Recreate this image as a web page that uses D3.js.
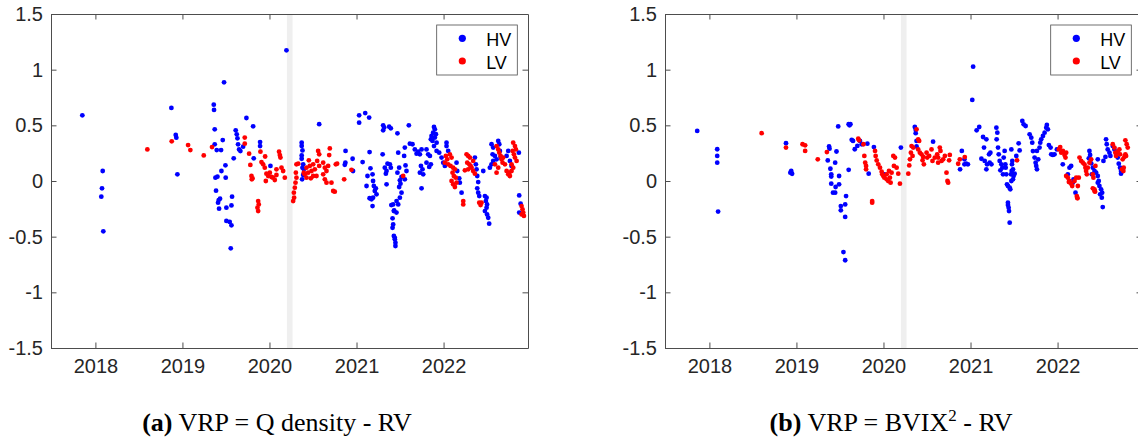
<!DOCTYPE html>
<html>
<head>
<meta charset="utf-8">
<script src="https://cdn.jsdelivr.net/npm/d3@7"></script>
<style>
  body { margin: 0; background: #fff; }
  svg { display: block; }
  .tick text { font-family: 'Liberation Sans', Arial, sans-serif; font-size: 20px; fill: #262626; }
  .legend-label { font-family: 'Liberation Sans', Arial, sans-serif; font-size: 18px; fill: #000; }
  .caption { font-family: 'Liberation Serif', 'Times New Roman', serif; font-size: 26px; fill: #000; }
</style>
</head>
<body>
<svg id="fig" width="1138" height="438"></svg>
<script>
// Tick labels and ranges
const years = [2018, 2019, 2020, 2021, 2022];
const yTicks = [-1.5, -1, -0.5, 0, 0.5, 1, 1.5];
const xDomain = [2017.49, 2022.97];
const yDomain = [-1.5, 1.5];
const covidBand = [2020.2, 2020.265];
const seriesNames = ['HV', 'LV'];
const seriesColors = ['#0000ff', '#ff0000'];

// Points are [decimal year, VRP]
const leftHV = [
  [2017.85,0.59],[2018.084,0.09],[2018.076,-0.066],[2018.068,-0.141],[2018.091,-0.452],
  [2018.873,0.656],[2018.923,0.413],[2018.93,0.389],[2018.942,0.06],
  [2019.36,0.686],[2019.363,0.638],[2019.371,0.464],[2019.371,0.329],[2019.394,0.278],[2019.444,0.278],[2019.463,0.368],[2019.478,0.886],
  [2019.379,0.03],[2019.402,0.039],[2019.448,0.09],[2019.494,0.141],[2019.497,0.03],
  [2019.386,-0.087],[2019.417,-0.171],[2019.432,-0.159],[2019.409,-0.195],[2019.421,-0.249],[2019.505,-0.24],[2019.57,-0.141],[2019.563,-0.219],[2019.505,-0.359],[2019.543,-0.368],[2019.563,-0.398],[2019.555,-0.605],
  [2019.589,0.204],[2019.612,0.455],[2019.624,0.419],[2019.632,0.383],[2019.639,0.329],[2019.651,0.284],[2019.666,0.269],[2019.697,0.308],[2019.735,0.566],[2019.812,0.491],[2019.819,0.204],[2019.892,0.35],[2019.892,0.314],[2020.011,0.135],[2020.195,1.174],
  [2020.37,0.344],[2020.37,0.315],[2020.379,0.275],[2020.37,0.23],[2020.37,0.2],[2020.387,0.15],[2020.379,0.12],[2020.395,0.105],[2020.387,0.054],[2020.375,0.015],
  [2020.571,0.51],
  [2020.874,0.27],[2020.872,0.165],[2020.865,0.145],[2020.955,0.2],[2020.96,0.09],
  [2021.07,0.17],[2021.15,0.26],
  [2021.03,0.59],[2021.03,0.524],[2021.1,0.61],[2021.145,0.57],
  [2021.126,0.045],[2021.115,-0.045],[2021.16,0.114],[2021.184,0.06],[2021.19,0.0],[2021.199,-0.045],[2021.21,-0.09],[2021.19,-0.15],[2021.184,-0.225],[2021.222,-0.066],[2021.23,-0.12],[2021.172,-0.165],[2021.15,-0.155],
  [2021.306,0.5],[2021.306,0.455],[2021.318,0.48],[2021.375,0.488],[2021.394,0.473],[2021.47,0.428],[2021.3,0.24],[2021.345,0.09],[2021.356,0.156],[2021.325,0.12],[2021.337,0.066],[2021.345,-0.03],[2021.383,0.15],[2021.394,0.12],
  [2021.479,0.254],[2021.49,0.12],[2021.47,0.075],[2021.498,0.006],[2021.517,0.036],[2021.505,-0.024],[2021.49,-0.054],[2021.517,-0.105],[2021.498,-0.15],[2021.46,-0.18],[2021.479,-0.21],[2021.421,-0.21],[2021.429,-0.27],[2021.414,-0.335],[2021.421,-0.39],[2021.414,-0.42],[2021.429,-0.494],[2021.44,-0.51],[2021.44,-0.524],[2021.447,-0.554],[2021.447,-0.584],[2021.40,-0.216],[2021.432,-0.263],[2021.459,-0.284],
  [2021.555,0.3],[2021.547,0.225],[2021.563,0.14],[2021.574,0.09],[2021.555,0.015],[2021.601,0.5],
  [2021.613,0.335],[2021.643,0.33],[2021.67,0.284],[2021.69,0.245],[2021.708,0.263],[2021.728,0.24],[2021.747,0.284],
  [2021.747,-0.066],[2021.74,0.135],[2021.758,0.105],[2021.766,0.06],[2021.728,0.075],
  [2021.804,0.284],[2021.823,0.24],[2021.843,0.225],[2021.804,0.165],[2021.835,0.126],[2021.854,0.15],
  [2021.89,0.485],[2021.9,0.464],[2021.88,0.434],[2021.862,0.404],[2021.854,0.374],[2021.873,0.36],[2021.9,0.39],[2021.912,0.42],[2021.89,0.314],[2021.92,0.344],
  [2021.92,0.27],[2021.95,0.254],[2021.977,0.21],[2021.996,0.165],[2022.015,0.135],
  [2022.034,0.344],[2022.034,0.314],[2022.053,0.27],
  [2022.149,0.165],[2022.157,0.09],[2022.18,0.024],[2022.187,-0.015],[2022.207,-0.105],
  [2022.36,0.21],[2022.371,0.15],[2022.379,0.105],[2022.387,0.045],[2022.398,-0.01],[2022.387,-0.066],[2022.398,-0.105],[2022.41,-0.135],
  [2022.456,0.09],[2022.475,-0.135],[2022.494,-0.15],[2022.486,-0.18],[2022.5,-0.21],[2022.494,-0.24],[2022.475,-0.27],[2022.5,-0.3],[2022.513,-0.33],[2022.524,-0.383],
  [2022.532,0.12],[2022.551,0.15],[2022.57,0.18],[2022.563,0.24],[2022.551,0.33],[2022.57,0.3],[2022.59,0.225],[2022.609,0.195],[2022.628,0.36],[2022.64,0.33],[2022.647,0.27],[2022.655,0.216],
  [2022.724,0.225],[2022.743,0.27],[2022.762,0.18],[2022.781,0.135],
  [2022.865,0.254],[2022.869,-0.13],[2022.885,-0.204],[2022.869,-0.284]
];

const leftLV = [
  [2018.597,0.284],[2018.877,0.356],[2019.065,0.323],[2019.091,0.278],[2019.245,0.23],[2019.34,0.305],
  [2019.716,0.39],[2019.716,0.335],[2019.766,0.245],[2019.78,0.144],[2019.793,0.045],[2019.805,0.024],[2019.797,0.015],
  [2019.896,0.263],[2019.908,0.17],[2019.927,0.15],[2019.946,0.12],[2019.95,0.22],[2019.965,0.066],[2019.985,0.045],[2019.958,0.0],[2020.004,0.075],[2020.023,0.036],[2020.042,0.03],[2020.061,0.009],[2020.08,0.105],[2020.11,0.263],[2020.119,0.233],[2020.126,0.21],[2020.138,0.12],[2020.157,0.09],[2020.176,0.03],[2020.08,0.054],
  [2019.87,-0.18],[2019.877,-0.21],[2019.862,-0.24],[2019.87,-0.27],
  [2020.31,0.15],[2020.303,0.075],[2020.31,0.03],[2020.299,-0.015],[2020.291,-0.06],[2020.28,-0.105],[2020.283,-0.15],[2020.272,-0.18],[2020.33,0.156],
  [2020.394,0.075],[2020.405,0.06],
  [2020.452,0.186],[2020.425,0.12],[2020.463,0.135],[2020.483,0.09],[2020.444,0.075],[2020.425,0.03],[2020.502,0.15],[2020.521,0.105],[2020.559,0.27],[2020.571,0.24],[2020.548,0.18],[2020.571,0.135],[2020.502,0.045],[2020.475,0.024],[2020.54,0.045],
  [2020.617,0.165],[2020.636,0.12],[2020.655,0.09],[2020.674,0.135],[2020.693,0.293],[2020.686,0.233],[2020.636,0.015],[2020.655,-0.015],[2020.732,-0.09],[2020.75,-0.096],[2020.762,0.15],[2020.777,0.156],[2020.712,-0.015],[2020.617,0.06],
  [2020.858,0.015],[2020.942,0.1],
  [2021.536,0.045],
  [2022.026,0.225],[2022.042,0.195],[2022.072,0.24],[2022.092,0.21],[2022.015,0.165],[2022.053,0.15],[2022.08,0.135],[2022.11,0.12],[2022.13,0.105],[2022.103,0.075],[2022.118,0.045],[2022.141,0.03],[2022.092,0.0],[2022.11,-0.03],[2022.13,-0.054],[2022.149,-0.015],
  [2022.226,-0.18],[2022.226,-0.21],
  [2022.264,0.24],[2022.283,0.225],[2022.302,0.21],[2022.272,0.165],[2022.295,0.15],[2022.31,0.135],[2022.283,0.105],[2022.322,0.12],[2022.34,0.09],[2022.36,0.066],[2022.245,0.096],[2022.34,0.18],
  [2022.41,-0.195],[2022.425,-0.216],[2022.436,-0.195],
  [2022.609,0.314],[2022.628,0.284],[2022.64,0.254],[2022.655,0.225],[2022.666,0.195],[2022.685,0.21],[2022.678,0.165],[2022.705,0.15],[2022.628,0.12],[2022.609,0.075],[2022.59,0.15],
  [2022.724,0.09],[2022.743,0.06],[2022.762,0.045],[2022.754,0.075],
  [2022.8,0.344],[2022.82,0.314],[2022.831,0.284],[2022.793,0.27],[2022.808,0.24],[2022.82,0.21],[2022.839,0.18],[2022.781,0.15],[2022.8,0.12],[2022.781,0.09],
  [2022.896,-0.225],[2022.907,-0.254],[2022.915,-0.284],[2022.896,-0.3],[2022.923,-0.314]
];

const rightHV = [
  [2017.86,0.45],[2018.09,0.285],[2018.09,0.225],[2018.09,0.165],[2018.10,-0.275],
  [2018.88,0.34],[2018.94,0.09],[2018.95,0.065],[2018.93,0.075],
  [2019.36,0.185],[2019.375,0.31],[2019.38,0.29],[2019.39,0.11],[2019.40,0.06],[2019.40,0.04],[2019.49,0.045],[2019.445,0.165],[2019.46,0.265],[2019.48,0.49],
  [2019.60,0.51],[2019.61,0.50],[2019.62,0.51],[2019.60,0.10],[2019.635,0.37],[2019.65,0.36],[2019.67,0.285],[2019.70,0.315],[2019.73,0.36],[2019.75,0.33],[2019.815,0.335],[2019.83,0.066],
  [2019.40,-0.024],[2019.42,-0.105],[2019.445,-0.105],[2019.45,-0.054],[2019.49,-0.03],[2019.57,-0.135],[2019.51,-0.225],[2019.51,-0.263],[2019.56,-0.21],[2019.56,-0.323],[2019.54,-0.638],[2019.56,-0.712],
  [2019.89,0.305],[2020.01,0.06],[2020.20,0.30],
  [2020.36,0.485],[2020.37,0.46],[2020.37,0.43],[2020.38,0.36],[2020.38,0.31],[2020.57,0.353],
  [2020.88,0.105],[2020.90,0.27],[2020.93,0.195],[2020.93,0.15],[2020.95,0.155],[2020.97,0.15],
  [2021.03,1.027],[2021.02,0.728],[2021.07,0.455],[2021.10,0.485],
  [2021.125,0.2],[2021.144,0.395],[2021.155,0.3],[2021.182,0.374],[2021.163,0.18],[2021.182,0.105],[2021.19,0.15],[2021.213,0.24],[2021.228,0.254],[2021.22,0.165],[2021.24,0.15],
  [2021.297,0.479],[2021.308,0.434],[2021.3,0.374],[2021.316,0.3],[2021.324,0.24],[2021.335,0.18],[2021.354,0.15],[2021.366,0.12],[2021.373,0.06],[2021.343,0.096],[2021.381,0.21],[2021.392,0.27],[2021.4,0.15],[2021.404,0.12],[2021.411,0.06],[2021.419,-0.03],[2021.43,-0.045],[2021.45,-0.06],[2021.457,-0.075],[2021.465,0.06],[2021.473,0.09],[2021.488,0.105],[2021.476,0.15],[2021.48,0.18],[2021.488,0.015],[2021.495,0.045],[2021.507,0.066],[2021.469,0.284],[2021.526,0.225],[2021.553,0.338],[2021.564,0.275],
  [2021.43,-0.195],[2021.43,-0.215],[2021.438,-0.24],[2021.442,-0.27],[2021.45,-0.374],[2021.469,0.0],
  [2021.595,0.539],[2021.61,0.509],[2021.633,0.494],[2021.679,0.419],[2021.698,0.389],[2021.709,0.344],[2021.717,0.269],[2021.736,0.21],[2021.748,0.165],[2021.755,0.135],[2021.763,0.105],[2021.778,0.195],[2021.763,0.27],[2021.793,0.3],[2021.801,0.344],[2021.812,0.374],[2021.832,0.404],[2021.851,0.434],[2021.87,0.479],[2021.877,0.503],[2021.889,0.464],[2021.9,0.323],[2021.92,0.3],[2021.927,0.24],[2021.946,0.234],[2021.965,0.24],[2021.992,0.284],
  [2022.06,0.15],[2022.118,0.06],[2022.137,0.12],[2022.156,0.135],[2022.175,-0.015],[2022.183,0.015],[2022.206,-0.105],
  [2022.366,0.27],[2022.374,0.234],[2022.359,0.204],[2022.386,0.159],[2022.405,0.12],[2022.424,0.09],[2022.443,0.075],[2022.462,0.195],[2022.462,0.045],[2022.473,0.0],[2022.481,-0.045],[2022.5,-0.075],[2022.489,-0.12],[2022.508,-0.15],[2022.393,0.06],[2022.462,-0.015],[2022.512,-0.105],[2022.519,-0.234],
  [2022.557,0.374],[2022.565,0.33],[2022.576,0.284],[2022.596,0.254],[2022.607,0.225],[2022.634,0.314],[2022.653,0.284],[2022.672,0.254],[2022.691,0.21],[2022.703,0.156],[2022.718,0.12],[2022.729,0.09],[2022.729,0.066],[2022.527,0.18],[2022.55,0.216]
];

const rightLV = [
  [2018.6,0.43],[2018.88,0.30],[2019.07,0.33],[2019.10,0.32],[2019.10,0.27],[2019.245,0.195],[2019.35,0.26],
  [2019.71,0.38],[2019.72,0.365],[2019.77,0.33],[2019.78,0.225],[2019.79,0.165],[2019.80,0.135],[2019.80,0.105],[2019.87,-0.18],[2019.87,-0.195],
  [2019.903,0.27],[2019.91,0.225],[2019.922,0.185],[2019.94,0.15],[2019.96,0.12],[2019.979,0.084],[2019.986,0.06],[2019.998,0.045],[2020.01,0.03],[2020.036,0.06],[2020.036,0.015],[2020.055,0.0],[2020.063,0.09],[2020.074,0.03],[2020.093,0.075],[2020.082,-0.015],[2020.113,0.225],[2020.132,0.21],[2020.12,0.135],[2020.151,0.12],[2020.17,0.066],[2020.189,-0.024],
  [2020.285,0.066],[2020.296,0.14],[2020.304,0.195],[2020.315,0.254],[2020.323,0.314],[2020.342,0.3],[2020.334,0.225],
  [2020.38,0.464],[2020.399,0.374],[2020.41,0.36],[2020.399,0.284],[2020.418,0.254],[2020.437,0.24],[2020.456,0.216],[2020.449,0.186],[2020.464,0.15],[2020.495,0.254],[2020.502,0.21],[2020.525,0.225],[2020.552,0.284],[2020.563,0.18],[2020.59,0.21],[2020.617,0.24],[2020.628,0.21],[2020.628,0.165],[2020.647,0.3],[2020.655,0.27],[2020.667,0.18],[2020.686,0.195],[2020.705,0.225],[2020.724,0.075],[2020.735,0.0],[2020.743,-0.015],[2020.762,0.234],[2020.754,0.186],
  [2020.858,0.155],[2020.877,0.195],[2020.934,0.215],
  [2021.534,0.186],
  [2022.015,0.284],[2022.03,0.305],[2022.042,0.254],[2022.061,0.27],[2022.08,0.234],[2022.099,0.254],[2022.091,0.21],
  [2022.099,0.045],[2022.118,0.03],[2022.137,0.0],[2022.156,-0.024],[2022.168,-0.045],[2022.195,0.0],[2022.214,0.03],[2022.244,0.03],[2022.233,-0.045],[2022.225,-0.15],[2022.13,-0.009],[2022.221,-0.135],[2022.229,-0.156],[2022.405,-0.066],[2022.424,-0.09],
  [2022.252,0.21],[2022.271,0.18],[2022.29,0.165],[2022.309,0.15],[2022.32,0.12],[2022.328,0.09],[2022.336,0.06],[2022.347,0.12],[2022.366,0.165],[2022.386,0.195],[2022.405,0.06],[2022.412,0.03],[2022.435,0.135],[2022.424,-0.075],[2022.431,-0.096],
  [2022.634,0.33],[2022.653,0.3],[2022.664,0.254],[2022.672,0.225],[2022.691,0.263],[2022.71,0.284],[2022.718,0.24],[2022.748,0.195],[2022.767,0.216],[2022.756,0.09],[2022.74,0.105],[2022.76,0.12],[2022.779,0.365],[2022.794,0.33],[2022.806,0.3],[2022.779,0.24],[2022.787,0.225]
];

const captionA = ['(a)', ' VRP = Q density - RV'];
const captionB = ['(b)', ' VRP = BVIX', '2', ' - RV'];

const plotWidth = 477;
const plotHeight = 334;
const plotTop = 14;
const tickLen = 5.5;
const axisColor = '#4d4d4d';

function generateXScale(left) {
  return d3.scaleLinear().domain(xDomain).range([left, left + plotWidth]);
}

function generateYScale() {
  return d3.scaleLinear().domain(yDomain).range([plotTop + plotHeight, plotTop]);
}

function styleAxis(g) {
  g.selectAll('path, line').attr('stroke', axisColor).attr('stroke-width', 1);
}

function addAxes(g, xScale, yScale, left) {
  const bottom = plotTop + plotHeight;
  const right = left + plotWidth;
  const fmt = (d) => String(d);

  // Bottom and left carry the labels, top and right only ticks (inward)
  g.append('g')
    .attr('transform', 'translate(0,' + bottom + ')')
    .call(d3.axisBottom(xScale).tickValues(years).tickFormat(d3.format('d'))
      .tickSize(-tickLen).tickSizeOuter(0).tickPadding(11))
    .call(styleAxis);
  g.append('g')
    .attr('transform', 'translate(0,' + plotTop + ')')
    .call(d3.axisTop(xScale).tickValues(years).tickFormat('')
      .tickSize(-tickLen).tickSizeOuter(0))
    .call(styleAxis);
  g.append('g')
    .attr('transform', 'translate(' + left + ',0)')
    .call(d3.axisLeft(yScale).tickValues(yTicks).tickFormat(fmt)
      .tickSize(-tickLen).tickSizeOuter(0).tickPadding(8))
    .call(styleAxis);
  g.append('g')
    .attr('transform', 'translate(' + right + ',0)')
    .call(d3.axisRight(yScale).tickValues(yTicks).tickFormat('')
      .tickSize(-tickLen).tickSizeOuter(0))
    .call(styleAxis);
}

function addLegend(g, right) {
  const box = g.append('g').attr('transform', 'translate(' + (right - 91.3) + ',25)');
  box.append('rect')
    .attr('width', 80.6)
    .attr('height', 50)
    .attr('fill', '#fff')
    .attr('stroke', axisColor)
    .attr('stroke-width', 0.8);
  seriesNames.forEach((name, i) => {
    box.append('circle')
      .attr('cx', 25.6)
      .attr('cy', 13.3 + i * 22.7)
      .attr('r', 3.6)
      .attr('fill', seriesColors[i]);
    box.append('text')
      .attr('class', 'legend-label')
      .attr('x', 49.5)
      .attr('y', 20.8 + i * 22.7)
      .text(name);
  });
}

function addCaption(svg, parts, cx) {
  const t = svg.append('text')
    .attr('class', 'caption')
    .attr('x', cx)
    .attr('y', 431)
    .attr('text-anchor', 'middle');
  t.append('tspan').attr('font-weight', 'bold').text(parts[0]);
  t.append('tspan').text(parts[1]);
  if (parts.length > 2) {
    t.append('tspan').attr('font-size', '17px').attr('dy', -10).text(parts[2]);
    t.append('tspan').attr('dy', 10).text(parts[3]);
  }
}

function drawPanel(svg, left, hv, lv, caption) {
  const g = svg.append('g');
  const xScale = generateXScale(left);
  const yScale = generateYScale();

  // Shaded period
  g.append('rect')
    .attr('x', xScale(covidBand[0]))
    .attr('y', plotTop)
    .attr('width', xScale(covidBand[1]) - xScale(covidBand[0]))
    .attr('height', plotHeight)
    .attr('fill', '#efefef');

  addAxes(g, xScale, yScale, left);

  [hv, lv].forEach((data, i) => {
    g.append('g')
      .selectAll('circle')
      .data(data)
      .join('circle')
      .attr('cx', (d) => xScale(d[0]))
      .attr('cy', (d) => yScale(d[1]))
      .attr('r', 2.4)
      .attr('fill', seriesColors[i]);
  });

  addLegend(g, left + plotWidth);
  addCaption(svg, caption, left + 226);
}

const svg = d3.select('#fig');
drawPanel(svg, 51, leftHV, leftLV, captionA);
drawPanel(svg, 665, rightHV, rightLV, captionB);
</script>
</body>
</html>
